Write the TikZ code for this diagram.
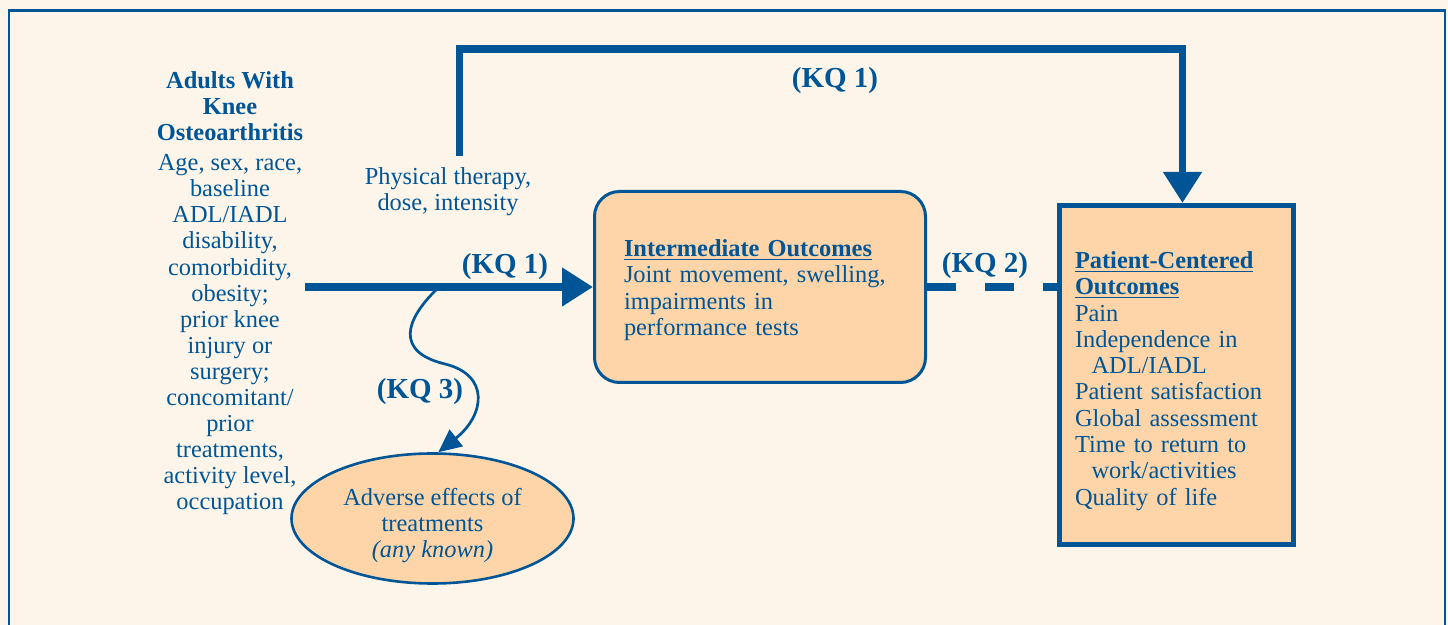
\documentclass[tikz,border=0pt]{standalone}
\usepackage{fontspec}
\setmainfont{Liberation Serif}
\usetikzlibrary{arrows.meta,shapes.geometric}

\definecolor{kqblue}{RGB}{0,85,150}
\definecolor{kqcream}{RGB}{254,245,234}
\definecolor{kqpeach}{RGB}{253,213,168}

\tikzset{
  plaintext/.style={text=kqblue, inner sep=0pt, font=\fontsize{12.2}{13.15}\selectfont},
  kqlabel/.style={text=kqblue, inner sep=0pt, font=\fontsize{14.5}{16}\selectfont\bfseries},
  roundbox/.style={draw=kqblue, fill=kqpeach, line width=1.5pt, rounded corners=12.5pt,
    minimum width=165.5pt, minimum height=95.5pt, inner sep=0pt},
  squarebox/.style={draw=kqblue, fill=kqpeach, line width=2.5pt,
    minimum width=117pt, minimum height=169.5pt, inner sep=0pt},
  ovalbox/.style={ellipse, draw=kqblue, fill=kqpeach, line width=1.3pt,
    minimum width=141pt, minimum height=65pt, inner sep=0pt},
  bigarrow/.style={draw=kqblue, line width=3.8pt, -{Triangle[width=18.5pt,length=15.5pt]}},
  dashlink/.style={draw=kqblue, line width=3.8pt, dash pattern=on 14.5pt off 14.5pt},
  wavearrow/.style={draw=kqblue, line width=1.35pt, -{Triangle[width=10.5pt,length=11.5pt]}}
}

\begin{document}
\begin{tikzpicture}[x=0.5pt,y=0.5pt,yscale=-1,xscale=1]
        \useasboundingbox (0,0) rectangle (1448,625);
        \fill[kqcream] (0,0) rectangle (1448,625);
        %Frame
        \draw[kqblue, line width=1.15pt] (8.7,630) -- (8.7,10.5) -- (1445,10.5) -- (1445,630);

        % Box Nodes
        \node[roundbox] (inter) at (760,287) {};
        \node[squarebox] (patient) at (1176.5,375) {};
        \node[ovalbox] (adverse) at (432.5,518.5) {};

        % Text Node
        \node[plaintext, align=center, font=\fontsize{12.2}{13.05}\selectfont] (adults) at (230,293.5) {\textbf{Adults With}\\ \textbf{Knee}\\ \textbf{Osteoarthritis}\\[1.8pt]
        Age, sex, race,\\ baseline\\ ADL/IADL\\ disability,\\ comorbidity,\\ obesity;\\ prior knee\\ injury or\\ surgery;\\
        concomitant/\\ prior\\ treatments,\\ activity level,\\ occupation};
        % Text Node
        \node[plaintext, align=center] (therapy) at (448,192) {Physical therapy,\\ dose, intensity};
        % Text Node
        \node[plaintext, text width=136pt, align=left] (intertext) at (760,290) {\underline{\textbf{Intermediate Outcomes}}\\ Joint movement, swelling,\\ impairments in\\ performance tests};
        % Text Node
        \node[plaintext, text width=101.5pt, align=left] (patienttext) at (1176.5,381) {\underline{\textbf{Patient-Centered}}\\ \underline{\textbf{Outcomes}}\\ Pain\\ Independence in\\
        \hspace*{8.3pt}ADL/IADL\\ Patient satisfaction\\ Global assessment\\ Time to return to\\ \hspace*{8.3pt}work/activities\\ Quality of life};
        % Text Node
        \node[plaintext, align=center] (adversetext) at (432.5,525.5) {Adverse effects of\\ treatments\\ \textit{(any known)}};

        % Text Node
        \node[kqlabel] (kqtop) at (835,80.5) {(KQ 1)};
        % Text Node
        \node[kqlabel] (kqmain) at (505,267) {(KQ 1)};
        % Text Node
        \node[kqlabel] (kqdash) at (985,265.5) {(KQ 2)};
        % Text Node
        \node[kqlabel] (kqwave) at (420,392) {(KQ 3)};

        \coordinate (popout) at (305,287);
        \coordinate (ptstart) at (459.5,156);
        \coordinate (ptup) at (459.5,49);
        \coordinate (ptover) at (1182.5,49);
        \coordinate (wavestart) at (437,289);

        %Straight Lines
        \draw[bigarrow] (popout) -- (inter.west);
        %Straight Lines
        \draw[bigarrow] (ptstart) -- (ptup) -- (ptover) -- (ptover |- patient.north);
        %Straight Lines
        \draw[dashlink] (inter.east) -- (inter.east -| patient.west);
        %Curve Lines
        \draw[wavearrow] (wavestart) .. controls (405,320) and (395,352) .. (445,364)
                                     .. controls (490,375) and (485,415) .. (adverse.85);
\end{tikzpicture}
\end{document}
